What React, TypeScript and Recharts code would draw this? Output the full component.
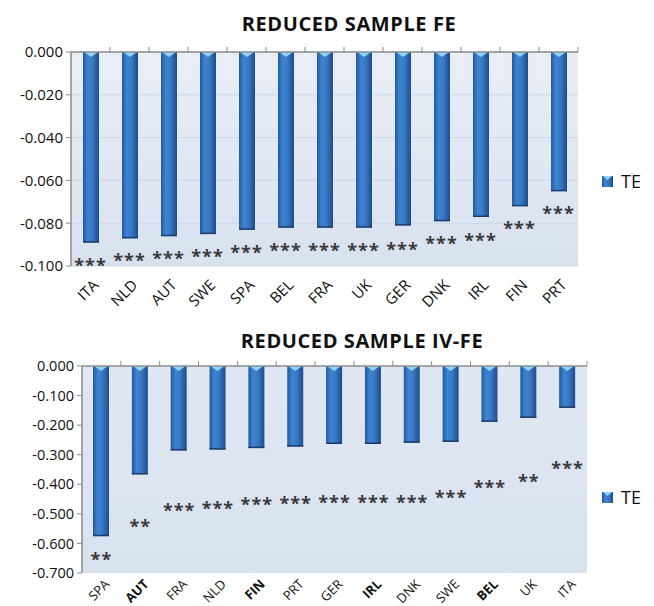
import { Bar, CartesianGrid, ComposedChart, Line, XAxis, YAxis } from "recharts";

const feCountries = ["ITA", "NLD", "AUT", "SWE", "SPA", "BEL", "FRA", "UK", "GER", "DNK", "IRL", "FIN", "PRT"];
const feTE = [-0.089, -0.087, -0.086, -0.085, -0.083, -0.082, -0.082, -0.082, -0.081, -0.079, -0.077, -0.072, -0.065];
const feStars = ["***", "***", "***", "***", "***", "***", "***", "***", "***", "***", "***", "***", "***"];
const feStarAt = [-0.098, -0.096, -0.095, -0.094, -0.092, -0.091, -0.091, -0.091, -0.0905, -0.088, -0.0865, -0.081, -0.074];
const feTicks = [0, -0.02, -0.04, -0.06, -0.08, -0.1];

const ivCountries = ["SPA", "AUT", "FRA", "NLD", "FIN", "PRT", "GER", "IRL", "DNK", "SWE", "BEL", "UK", "ITA"];
const ivTE = [-0.575, -0.366, -0.285, -0.282, -0.277, -0.272, -0.263, -0.263, -0.259, -0.256, -0.188, -0.175, -0.141];
const ivStars = ["**", "**", "***", "***", "***", "***", "***", "***", "***", "***", "***", "**", "***"];
const ivStarAt = [-0.643, -0.53, -0.477, -0.469, -0.458, -0.454, -0.451, -0.451, -0.451, -0.434, -0.4, -0.379, -0.334];
const ivTicks = [0, -0.1, -0.2, -0.3, -0.4, -0.5, -0.6, -0.7];
const ivBold = ["AUT", "FIN", "IRL", "BEL"];

const FONT = "'Open Sans', sans-serif";
const AXIS = "#8c8c8c";

const feData = feCountries.map((name, i) => ({ name, te: feTE[i], starAt: feStarAt[i], stars: feStars[i] }));
const ivData = ivCountries.map((name, i) => ({ name, te: ivTE[i], starAt: ivStarAt[i], stars: ivStars[i] }));

function Defs() {
  return (
    <defs>
      <linearGradient id="tube" x1="0" y1="0" x2="1" y2="0">
        <stop offset="0%" stopColor="#23599e" />
        <stop offset="30%" stopColor="#3f83d0" />
        <stop offset="60%" stopColor="#3878c4" />
        <stop offset="100%" stopColor="#1d4c8a" />
      </linearGradient>
      <linearGradient id="bgTop" x1="0" y1="0" x2="0" y2="1">
        <stop offset="0%" stopColor="#e9eef6" />
        <stop offset="100%" stopColor="#d8e2ef" />
      </linearGradient>
      <linearGradient id="bgBottom" x1="0" y1="0" x2="0" y2="1">
        <stop offset="0%" stopColor="#dfe7f2" />
        <stop offset="100%" stopColor="#d9e3f0" />
      </linearGradient>
    </defs>
  );
}

function TubeBar(props: any) {
  const { x, y, width, height } = props;
  const top = Math.min(y, y + height);
  const h = Math.abs(height);
  return (
    <g>
      <rect x={x} y={top} width={width} height={h} fill="url(#tube)" />
      <line x1={x} x2={x + width} y1={top + h - 0.5} y2={top + h - 0.5} stroke="#1b3c6a" strokeWidth={1.5} />
      <path d={`M${x + 1},${top} L${x + width - 1},${top} L${x + width / 2},${top + 5} Z`} fill="#8fd4f8" />
    </g>
  );
}

const starDot = (p: any) => (
  <text
    key={p.index}
    x={p.cx}
    y={p.cy + 10}
    textAnchor="middle"
    fontSize={18}
    fontWeight={700}
    letterSpacing={1}
    fill="#3a3a3a"
    fontFamily={FONT}
  >
    {p.payload.stars}
  </text>
);

const boundaryTick = (half: number) => (p: any) => (
  <line key={p.index} x1={p.x + half} x2={p.x + half} y1={p.y} y2={p.y - 5} stroke={AXIS} />
);

const labelTick = (dx: number, dy: number, size: number, bold: string[]) => (p: any) => (
  <text
    key={p.index}
    transform={`translate(${p.x + dx},${p.y + dy}) rotate(-45)`}
    textAnchor="end"
    fontSize={size}
    fontWeight={bold.includes(p.payload.value) ? 700 : 400}
    fill="#111"
    fontFamily={FONT}
  >
    {p.payload.value}
  </text>
);

function Panel(props: {
  data: any[];
  ticks: number[];
  domain: [number, number];
  margin: { top: number; right: number; bottom: number; left: number };
  yWidth: number;
  bottomH: number;
  half: number;
  tickFont: number;
  labelFont: number;
  dy: number;
  bold: string[];
  bg: string;
  grid: boolean;
}) {
  return (
    <ComposedChart width={654} height={303} data={props.data} margin={props.margin} barCategoryGap="58%">
      <Defs />
      <CartesianGrid
        xAxisId="bottom"
        vertical={false}
        horizontal={props.grid}
        stroke="#cad7e9"
        fill={props.bg}
      />
      <XAxis
        xAxisId="top"
        orientation="top"
        dataKey="name"
        height={6}
        axisLine={{ stroke: AXIS, strokeWidth: 1.5 }}
        tickLine={false}
        tickSize={0}
        tickMargin={0}
        tick={boundaryTick(props.half)}
        interval={0}
      />
      <XAxis
        xAxisId="bottom"
        dataKey="name"
        height={props.bottomH}
        axisLine={false}
        tickLine={false}
        tickSize={0}
        tickMargin={0}
        tick={labelTick(9, props.dy, props.labelFont, props.bold)}
        interval={0}
      />
      <YAxis
        width={props.yWidth}
        domain={props.domain}
        ticks={props.ticks}
        interval={0}
        axisLine={{ stroke: AXIS, strokeWidth: 1.5 }}
        tickLine={{ stroke: AXIS }}
        tickSize={5}
        tickMargin={3}
        tickFormatter={(v: number) => v.toFixed(3)}
        tick={{ fill: "#111", fontSize: props.tickFont, fontFamily: FONT }}
      />
      <Bar xAxisId="bottom" dataKey="te" barSize={16} shape={TubeBar} isAnimationActive={false} />
      <Line
        xAxisId="bottom"
        dataKey="starAt"
        stroke="none"
        dot={starDot}
        activeDot={false}
        legendType="none"
        isAnimationActive={false}
      />
    </ComposedChart>
  );
}

function LegendKey({ y }: { y: number }) {
  return (
    <g>
      <rect x={602} y={y} width={11} height={11} fill="url(#tube)" />
      <path d={`M603,${y} L612,${y} L607.5,${y + 4} Z`} fill="#8fd4f8" />
      <text x={621} y={y + 12} fontSize={18} fill="#111" fontFamily={FONT}>
        TE
      </text>
    </g>
  );
}

export default function App() {
  return (
    <div style={{ position: "absolute", left: 0, top: 0, width: 654, height: 606, background: "#fff", overflow: "hidden" }}>
      <style>{`.recharts-surface, .recharts-wrapper { overflow: visible !important; }`}</style>
      <Panel
        data={feData}
        ticks={feTicks}
        domain={[-0.1, 0]}
        margin={{ top: 46, right: 76, bottom: 0, left: 0 }}
        yWidth={71}
        bottomH={37}
        half={(654 - 71 - 76) / 26}
        tickFont={15}
        labelFont={15}
        dy={20}
        bold={[]}
        bg="url(#bgTop)"
        grid={true}
      />
      <Panel
        data={ivData}
        ticks={ivTicks}
        domain={[-0.7, 0]}
        margin={{ top: 57, right: 67, bottom: 0, left: 0 }}
        yWidth={82}
        bottomH={33}
        half={(654 - 82 - 67) / 26}
        tickFont={14.5}
        labelFont={13}
        dy={12}
        bold={ivBold}
        bg="url(#bgBottom)"
        grid={false}
      />
      <svg width={654} height={606} style={{ position: "absolute", left: 0, top: 0, pointerEvents: "none" }}>
        <Defs />
        <text x={349} y={31} textAnchor="middle" fontSize={20} letterSpacing={0.6} fontWeight={700} fill="#111" fontFamily={FONT}>
          REDUCED SAMPLE FE
        </text>
        <text x={362} y={348} textAnchor="middle" fontSize={20} letterSpacing={0.6} fontWeight={700} fill="#111" fontFamily={FONT}>
          REDUCED SAMPLE IV-FE
        </text>
        <LegendKey y={176} />
        <LegendKey y={492} />
      </svg>
    </div>
  );
}
